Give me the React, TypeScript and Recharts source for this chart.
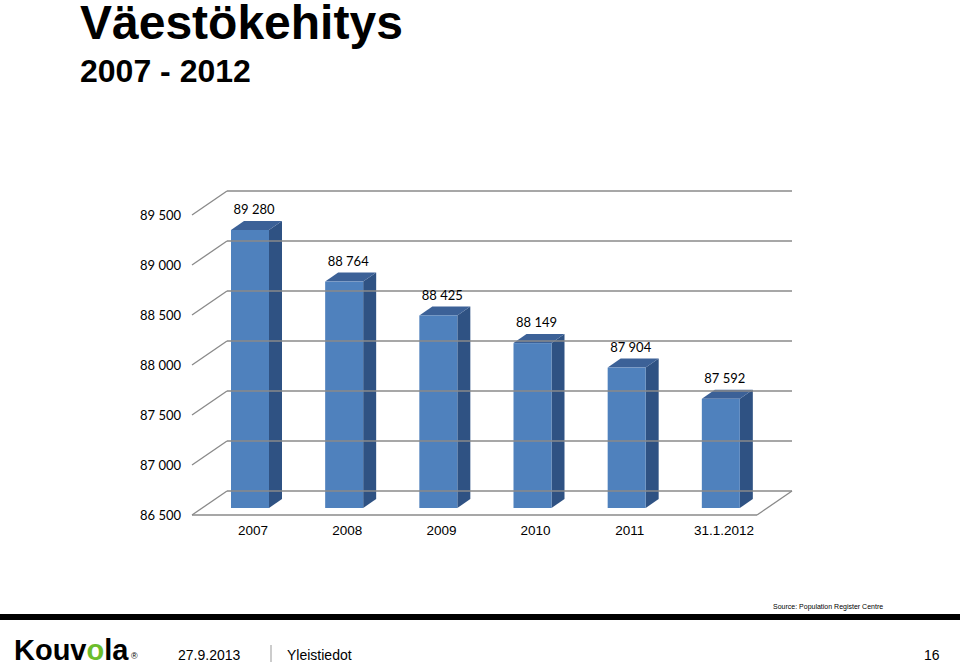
import React from 'react'
import { BarChart, Bar, XAxis, YAxis, LabelList } from 'recharts'

const categories = ['2007', '2008', '2009', '2010', '2011', '31.1.2012']
const population = [89280, 88764, 88425, 88149, 87904, 87592]
const yTicks = [86500, 87000, 87500, 88000, 88500, 89000, 89500]

const data = categories.map((cat, i) => ({ cat, value: population[i] }))

// front plane of the 3D box
const PLOT_LEFT = 192
const PLOT_RIGHT = 757
const PLOT_TOP = 215
const PLOT_BOTTOM = 515
// depth of the back wall
const WALL_DX = 35
const WALL_DY = 24
// bars sit a little inside the box
const BAR_DX = 11
const BAR_DY = -7
const SIDE_DX = 13
const SIDE_DY = 9

const GRID = '#8a8a8a'
const LABEL_FONT = 'Lato, "Open Sans", sans-serif'
const ARIAL = '"Liberation Sans", Arial, sans-serif'

const fmt = (v: number) => String(v).replace(/\B(?=(\d{3})+(?!\d))/g, ' ')

function Bar3D(props: any) {
  const { x, y, width, height } = props
  const fx = x + BAR_DX
  const fy = y + BAR_DY
  return (
    <g>
      <polygon
        points={`${fx + width},${fy} ${fx + width + SIDE_DX},${fy - SIDE_DY} ${fx + width + SIDE_DX},${fy + height - SIDE_DY} ${fx + width},${fy + height}`}
        fill="#2f5283"
      />
      <polygon
        points={`${fx},${fy} ${fx + SIDE_DX},${fy - SIDE_DY} ${fx + width + SIDE_DX},${fy - SIDE_DY} ${fx + width},${fy}`}
        fill="#3c6197"
      />
      <rect x={fx} y={fy} width={width} height={height} fill="#4f81bd" />
    </g>
  )
}

function YTick(props: any) {
  const { y, payload } = props
  return (
    <g>
      <line x1={PLOT_LEFT} y1={y} x2={PLOT_LEFT + WALL_DX} y2={y - WALL_DY} stroke={GRID} strokeWidth={1.3} />
      <line x1={PLOT_LEFT + WALL_DX} y1={y - WALL_DY} x2={PLOT_RIGHT + WALL_DX} y2={y - WALL_DY} stroke={GRID} strokeWidth={1.3} />
      <text x={181} y={y} textAnchor="end" dominantBaseline="central" fontFamily={LABEL_FONT} fontSize={13} fill="#000">
        {fmt(payload.value)}
      </text>
    </g>
  )
}

function XTick(props: any) {
  const { x, payload } = props
  return (
    <text x={x + 14} y={530} textAnchor="middle" dominantBaseline="central" fontFamily={ARIAL} fontSize={13.5} fill="#000">
      {payload.value}
    </text>
  )
}

function ValueLabel(props: any) {
  const { x, y, width, value } = props
  return (
    <text x={x + width / 2 + 15} y={y + BAR_DY - 21} textAnchor="middle" dominantBaseline="central" fontFamily={LABEL_FONT} fontSize={13} fill="#000">
      {fmt(value)}
    </text>
  )
}

export default function App() {
  const yAxisWidth = 100
  const xAxisHeight = 40
  return (
    <div style={{ position: 'absolute', left: 0, top: 0, width: 960, height: 664, background: '#fff', overflow: 'hidden' }}>
      <svg width={960} height={664} style={{ position: 'absolute', left: 0, top: 0 }}>
        <text x={80} y={39} fontFamily={ARIAL} fontWeight="bold" fontSize={48} fill="#000">Väestökehitys</text>
        <text x={80} y={82} fontFamily={ARIAL} fontWeight="bold" fontSize={32} fill="#000">2007 - 2012</text>
        <line x1={PLOT_RIGHT} y1={PLOT_BOTTOM} x2={PLOT_RIGHT + WALL_DX} y2={PLOT_BOTTOM - WALL_DY} stroke={GRID} strokeWidth={1.3} />
        <text x={773} y={609} fontFamily={ARIAL} fontSize={7} fill="#000">Source: Population Register Centre</text>
        <rect x={0} y={614} width={960} height={6} fill="#000" />
        <text x={14} y={660} fontFamily={ARIAL} fontWeight="bold" fontSize={29} fill="#000">
          Kouv<tspan fill="#6cbd2c">o</tspan>la
        </text>
        <text x={131} y={659} fontFamily={ARIAL} fontSize={9} fill="#000">®</text>
        <text x={178} y={660} fontFamily={ARIAL} fontSize={14} fill="#000">27.9.2013</text>
        <line x1={271} y1={645} x2={271} y2={662} stroke="#999" strokeWidth={1} />
        <text x={287} y={660} fontFamily={ARIAL} fontSize={14} fill="#000">Yleistiedot</text>
        <text x={924} y={660} fontFamily={ARIAL} fontSize={14} fill="#000">16</text>
      </svg>
      <div style={{ position: 'absolute', left: 0, top: 0 }}>
        <BarChart
          width={960}
          height={664}
          data={data}
          margin={{ top: PLOT_TOP, right: 960 - PLOT_RIGHT, bottom: 664 - PLOT_BOTTOM - xAxisHeight, left: PLOT_LEFT - yAxisWidth }}
        >
          <YAxis
            domain={[86500, 89500]}
            ticks={yTicks}
            interval={0}
            width={yAxisWidth}
            axisLine={false}
            tickLine={false}
            tick={<YTick />}
            allowDataOverflow
          />
          <XAxis
            dataKey="cat"
            height={xAxisHeight}
            axisLine={{ stroke: GRID, strokeWidth: 1.3 }}
            tickLine={false}
            tick={<XTick />}
            interval={0}
          />
          <Bar dataKey="value" barSize={38} shape={<Bar3D />} isAnimationActive={false}>
            <LabelList dataKey="value" content={<ValueLabel />} />
          </Bar>
        </BarChart>
      </div>
    </div>
  )
}
